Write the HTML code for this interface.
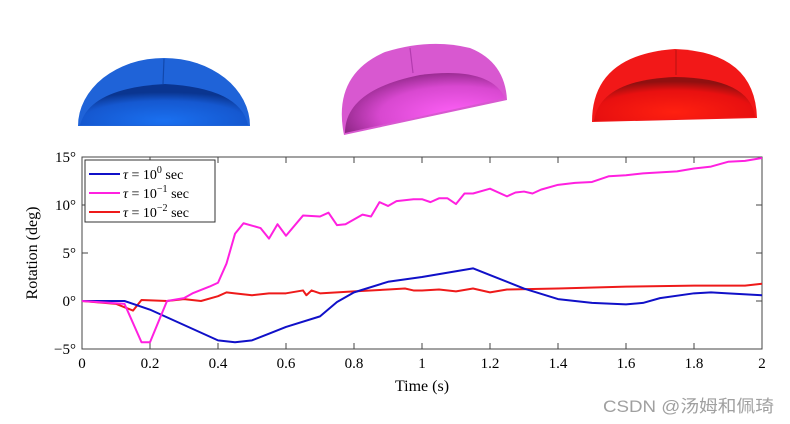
<!DOCTYPE html>
<html><head><meta charset="utf-8"><style>
body{margin:0;background:#fff;width:790px;height:424px;overflow:hidden}
svg{display:block;font-family:"Liberation Serif",serif}
</style></head><body>
<svg id="chart" width="790" height="424" viewBox="0 0 790 424">
<defs>
<radialGradient id="gb" cx="0.5" cy="0.9" r="0.7"><stop offset="0" stop-color="#1a70f0"/><stop offset="0.7" stop-color="#1558d0"/><stop offset="1" stop-color="#0a3590"/></radialGradient>
<radialGradient id="gm" cx="0.7" cy="0.7" r="0.8"><stop offset="0" stop-color="#ff60f8"/><stop offset="0.6" stop-color="#d848d0"/><stop offset="1" stop-color="#802078"/></radialGradient>
<radialGradient id="gr" cx="0.5" cy="0.8" r="0.7"><stop offset="0" stop-color="#ff2010"/><stop offset="0.7" stop-color="#e81010"/><stop offset="1" stop-color="#901010"/></radialGradient>
</defs>
<g>
<path d="M78,126 A86,68 0 0 1 250,126 Z" fill="#1f63d8"/>
<path d="M80,125 Q90,88 165,84 Q240,88 248,125 Z" fill="url(#gb)"/>
<line x1="164" y1="59" x2="163" y2="84" stroke="#0d3d9a" stroke-width="1.2" opacity="0.7"/>
</g>
<g>
<path d="M344,135 Q332,75 385,52 Q430,38 470,48 Q505,62 507,100 Z" fill="#d858d0"/>
<path d="M345,133 Q345,90 420,75 Q490,66 505,98 Z" fill="url(#gm)"/>
<line x1="410" y1="48" x2="413" y2="73" stroke="#902090" stroke-width="1.2" opacity="0.5"/>
</g>
<g>
<path d="M592,122 Q592,55 675,49 Q755,52 757,118 Z" fill="#f21818"/>
<path d="M594,121 Q600,80 675,77 Q750,78 755,117 Z" fill="url(#gr)"/>
<line x1="676" y1="50" x2="676" y2="75" stroke="#901010" stroke-width="1.2" opacity="0.5"/>
</g>
<rect x="82" y="157" width="680" height="192" fill="#fff" stroke="#444" stroke-width="1"/>
<g id="axes"></g>
<g id="series"></g>
<g>
<rect x="85" y="160" width="130" height="62" fill="#fff" stroke="#333" stroke-width="1"/>
<line x1="89" y1="174" x2="120" y2="174" stroke="#1010c8" stroke-width="2"/>
<text x="123" y="179" font-size="14"><tspan font-style="italic">τ</tspan> = 10<tspan dy="-6" font-size="10">0</tspan><tspan dy="6"> sec</tspan></text>
<line x1="89" y1="193" x2="120" y2="193" stroke="#ff20e0" stroke-width="2"/>
<text x="123" y="198" font-size="14"><tspan font-style="italic">τ</tspan> = 10<tspan dy="-6" font-size="10">−1</tspan><tspan dy="6"> sec</tspan></text>
<line x1="89" y1="212" x2="120" y2="212" stroke="#ee1a1a" stroke-width="2"/>
<text x="123" y="217" font-size="14"><tspan font-style="italic">τ</tspan> = 10<tspan dy="-6" font-size="10">−2</tspan><tspan dy="6"> sec</tspan></text>
</g>
<text x="422" y="391" font-size="16" text-anchor="middle">Time (s)</text>
<text transform="translate(37,253) rotate(-90)" font-size="16" text-anchor="middle">Rotation (deg)</text>
<text x="603" y="412" font-size="17" fill="#a0a0a0" textLength="171" lengthAdjust="spacingAndGlyphs" font-family="Liberation Sans, Noto Sans CJK SC, sans-serif">CSDN @汤姆和佩琦</text>
</svg>
<script>
const xTicks=[0,0.2,0.4,0.6,0.8,1,1.2,1.4,1.6,1.8,2];
const yTicks=[-5,0,5,10,15];
const tBlue=[0,0.125,0.2,0.3,0.4,0.45,0.5,0.55,0.6,0.7,0.75,0.8,0.9,1.0,1.05,1.1,1.15,1.2,1.3,1.4,1.5,1.6,1.65,1.7,1.8,1.85,1.9,2.0];
const vBlue=[0,0,-0.9,-2.5,-4.1,-4.3,-4.1,-3.4,-2.7,-1.6,-0.1,0.9,2,2.5,2.8,3.1,3.4,2.7,1.3,0.2,-0.2,-0.35,-0.2,0.3,0.8,0.9,0.8,0.6];
const tMag=[0,0.125,0.175,0.2,0.25,0.3,0.325,0.375,0.4,0.425,0.45,0.475,0.525,0.55,0.575,0.6,0.65,0.7,0.725,0.75,0.775,0.825,0.85,0.875,0.9,0.925,0.975,1.0,1.025,1.05,1.075,1.1,1.125,1.15,1.2,1.25,1.275,1.3,1.325,1.35,1.4,1.45,1.5,1.55,1.6,1.65,1.75,1.8,1.85,1.9,1.95,2.0];
const vMag=[0,-0.3,-4.3,-4.3,0,0.3,0.8,1.5,1.9,3.9,7,8.1,7.6,6.5,8,6.8,8.9,8.8,9.2,7.9,8,9,8.8,10.3,9.9,10.4,10.6,10.6,10.3,10.7,10.7,10.1,11.2,11.2,11.7,10.9,11.3,11.4,11.2,11.6,12.1,12.3,12.4,13,13.1,13.3,13.5,13.8,14,14.5,14.6,14.9];
const tRed=[0,0.1,0.15,0.175,0.25,0.3,0.35,0.4,0.425,0.45,0.5,0.55,0.6,0.65,0.66,0.675,0.7,0.8,0.9,0.95,0.975,1.0,1.05,1.1,1.15,1.2,1.25,1.4,1.6,1.8,1.95,2.0];
const vRed=[0,-0.3,-1,0.1,0,0.2,0,0.5,0.9,0.8,0.6,0.8,0.8,1.1,0.6,1.1,0.8,1.0,1.2,1.3,1.1,1.1,1.2,1.0,1.3,0.9,1.2,1.3,1.5,1.6,1.6,1.8];
const NS='http://www.w3.org/2000/svg';
const X=t=>82+t*340, Y=v=>301-v*9.6;
const ax=document.getElementById('axes'), sg=document.getElementById('series');
function mk(tag,attrs,parent){const e=document.createElementNS(NS,tag);for(const k in attrs)e.setAttribute(k,attrs[k]);parent.appendChild(e);return e;}
xTicks.forEach(t=>{
  const l=mk('line',{x1:X(t),x2:X(t),y1:349,y2:343,stroke:'#444'},ax);
  
  
  const l2=mk('line',{x1:X(t),x2:X(t),y1:157,y2:163,stroke:'#444'},ax);
  
  
  const tx=mk('text',{x:X(t),y:368,'font-size':15,'text-anchor':'middle'},ax);
  tx.textContent=String(t);
  
  
});
yTicks.forEach(v=>{
  const l=mk('line',{x1:82,x2:88,y1:Y(v),y2:Y(v),stroke:'#444'},ax);
  
  
  const l2=mk('line',{x1:756,x2:762,y1:Y(v),y2:Y(v),stroke:'#444'},ax);
  
  
  const tx=mk('text',{x:76,y:Y(v)+5,'font-size':15,'text-anchor':'end'},ax);
  tx.textContent=(v<0?'−'+(-v):v)+'°';
  
  
});
function line(ts,vs,color,name){
  const p=mk('polyline',{points:ts.map((t,i)=>X(t)+','+Y(vs[i])).join(' '),fill:'none',stroke:color,'stroke-width':2,'stroke-linejoin':'round'},sg);
  
  
}
line(tRed,vRed,'#ee1a1a','series-tau-0.01');
line(tBlue,vBlue,'#1010c8','series-tau-1');
line(tMag,vMag,'#ff20e0','series-tau-0.1');
</script>
</body></html>
